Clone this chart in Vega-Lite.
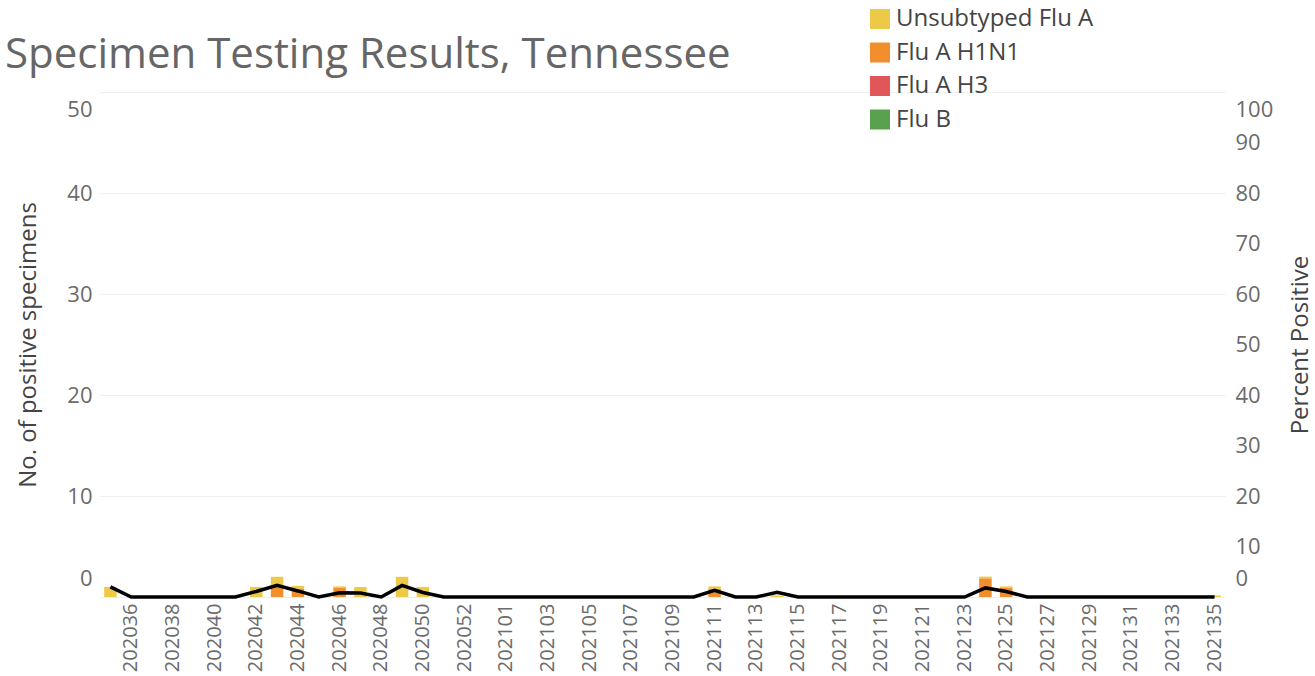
{
  "$schema": "https://vega.github.io/schema/vega-lite/v6.json",
  "autosize": {"type": "none"},
  "width": 1125,
  "height": 505,
  "padding": {"left": 100, "top": 92, "right": 90, "bottom": 79},
  "title": {
    "text": "Specimen Testing Results, Tennessee",
    "anchor": "start",
    "frame": "group",
    "offset": 14,
    "dy": 84,
    "dx": -95,
    "fontSize": 42,
    "font": "Open Sans",
    "fontWeight": "normal",
    "color": "#666666"
  },
  "config": {
    "view": {"stroke": null},
    "font": "Open Sans",
    "axis": {
      "domain": false,
      "ticks": false,
      "labelFont": "Open Sans",
      "titleFont": "Open Sans",
      "labelColor": "#6b6b6b",
      "titleColor": "#444444",
      "titleFontWeight": "normal",
      "gridColor": "#eeeeee",
      "gridWidth": 1
    }
  },
  "datasets": {
    "counts": [
      {"week": "202035", "type": "Unsubtyped Flu A", "count": 1},
      {"week": "202042", "type": "Unsubtyped Flu A", "count": 1},
      {"week": "202043", "type": "Flu A H1N1", "count": 1},
      {"week": "202043", "type": "Unsubtyped Flu A", "count": 1},
      {"week": "202044", "type": "Flu A H1N1", "count": 0.85},
      {"week": "202044", "type": "Unsubtyped Flu A", "count": 0.25},
      {"week": "202046", "type": "Flu A H1N1", "count": 0.9},
      {"week": "202046", "type": "Unsubtyped Flu A", "count": 0.15},
      {"week": "202047", "type": "Unsubtyped Flu A", "count": 1},
      {"week": "202049", "type": "Unsubtyped Flu A", "count": 2},
      {"week": "202050", "type": "Unsubtyped Flu A", "count": 1},
      {"week": "202111", "type": "Flu A H1N1", "count": 0.8},
      {"week": "202111", "type": "Unsubtyped Flu A", "count": 0.25},
      {"week": "202114", "type": "Unsubtyped Flu A", "count": 0.15},
      {"week": "202124", "type": "Flu A H1N1", "count": 1.85},
      {"week": "202124", "type": "Unsubtyped Flu A", "count": 0.17},
      {"week": "202125", "type": "Flu A H1N1", "count": 0.9},
      {"week": "202125", "type": "Unsubtyped Flu A", "count": 0.15},
      {"week": "202135", "type": "Unsubtyped Flu A", "count": 0.15}
    ],
    "pct": [
      {"week": "202035", "pct": 2.0},
      {"week": "202036", "pct": 0},
      {"week": "202037", "pct": 0},
      {"week": "202038", "pct": 0},
      {"week": "202039", "pct": 0},
      {"week": "202040", "pct": 0},
      {"week": "202041", "pct": 0},
      {"week": "202042", "pct": 1.1},
      {"week": "202043", "pct": 2.3},
      {"week": "202044", "pct": 1.2},
      {"week": "202045", "pct": 0},
      {"week": "202046", "pct": 0.85},
      {"week": "202047", "pct": 0.8},
      {"week": "202048", "pct": 0},
      {"week": "202049", "pct": 2.3},
      {"week": "202050", "pct": 0.9},
      {"week": "202051", "pct": 0},
      {"week": "202052", "pct": 0},
      {"week": "202053", "pct": 0},
      {"week": "202101", "pct": 0},
      {"week": "202102", "pct": 0},
      {"week": "202103", "pct": 0},
      {"week": "202104", "pct": 0},
      {"week": "202105", "pct": 0},
      {"week": "202106", "pct": 0},
      {"week": "202107", "pct": 0},
      {"week": "202108", "pct": 0},
      {"week": "202109", "pct": 0},
      {"week": "202110", "pct": 0},
      {"week": "202111", "pct": 1.3},
      {"week": "202112", "pct": 0},
      {"week": "202113", "pct": 0},
      {"week": "202114", "pct": 0.95},
      {"week": "202115", "pct": 0},
      {"week": "202116", "pct": 0},
      {"week": "202117", "pct": 0},
      {"week": "202118", "pct": 0},
      {"week": "202119", "pct": 0},
      {"week": "202120", "pct": 0},
      {"week": "202121", "pct": 0},
      {"week": "202122", "pct": 0},
      {"week": "202123", "pct": 0},
      {"week": "202124", "pct": 1.8},
      {"week": "202125", "pct": 1.1},
      {"week": "202126", "pct": 0},
      {"week": "202127", "pct": 0},
      {"week": "202128", "pct": 0},
      {"week": "202129", "pct": 0},
      {"week": "202130", "pct": 0},
      {"week": "202131", "pct": 0},
      {"week": "202132", "pct": 0},
      {"week": "202133", "pct": 0},
      {"week": "202134", "pct": 0},
      {"week": "202135", "pct": 0}
    ]
  },
  "layer": [
    {
      "data": {"name": "counts"},
      "mark": {"type": "bar"},
      "encoding": {
        "x": {
          "field": "week",
          "type": "ordinal",
          "scale": {"paddingInner": 0.4, "paddingOuter": 0.2},
          "axis": {
            "title": null,
            "values": ["202036", "202038", "202040", "202042", "202044", "202046", "202048", "202050", "202052", "202101", "202103", "202105", "202107", "202109", "202111", "202113", "202115", "202117", "202119", "202121", "202123", "202125", "202127", "202129", "202131", "202133", "202135"],
            "labelAngle": 270,
            "labelFontSize": 20,
            "labelPadding": 6,
            "grid": false
          }
        },
        "y": {
          "field": "count",
          "type": "quantitative",
          "stack": "zero",
          "scale": {"domain": [0, 50], "nice": false},
          "axis": {
            "title": "No. of positive specimens",
            "values": [0, 10, 20, 30, 40, 50],
            "labelFlush": true,
            "labelFlushOffset": -7,
            "labelFontSize": 22,
            "titleFontSize": 24,
            "labelPadding": 8,
            "titlePadding": 26,
            "grid": true
          }
        },
        "color": {
          "field": "type",
          "type": "nominal",
          "scale": {
            "domain": ["Unsubtyped Flu A", "Flu A H1N1", "Flu A H3", "Flu B"],
            "range": ["#EDC948", "#F28E2B", "#E15759", "#59A14F"]
          },
          "legend": {
            "orient": "none",
            "legendX": 768,
            "legendY": -85,
            "title": null,
            "symbolType": "square",
            "symbolSize": 400,
            "symbolStrokeWidth": 0,
            "labelFontSize": 24,
            "labelFont": "Open Sans",
            "labelColor": "#444444",
            "labelLimit": 400,
            "rowPadding": 9.5,
            "labelOffset": 4,
            "padding": 0
          }
        },
        "order": {"field": "type", "sort": "ascending"}
      }
    },
    {
      "data": {"name": "pct"},
      "mark": {"type": "line", "color": "black", "strokeWidth": 3.5},
      "encoding": {
        "x": {"field": "week", "type": "ordinal"},
        "y": {
          "field": "pct",
          "type": "quantitative",
          "scale": {"domain": [0, 100], "nice": false},
          "axis": {
            "orient": "right",
            "title": "Percent Positive",
            "titleAngle": 270,
            "values": [0, 10, 20, 30, 40, 50, 60, 70, 80, 90, 100],
            "labelFlush": true,
            "labelFlushOffset": -7,
            "labelFontSize": 22,
            "titleFontSize": 24,
            "labelPadding": 10,
            "titlePadding": 40,
            "grid": false
          }
        }
      }
    }
  ],
  "resolve": {"scale": {"y": "independent"}}
}
